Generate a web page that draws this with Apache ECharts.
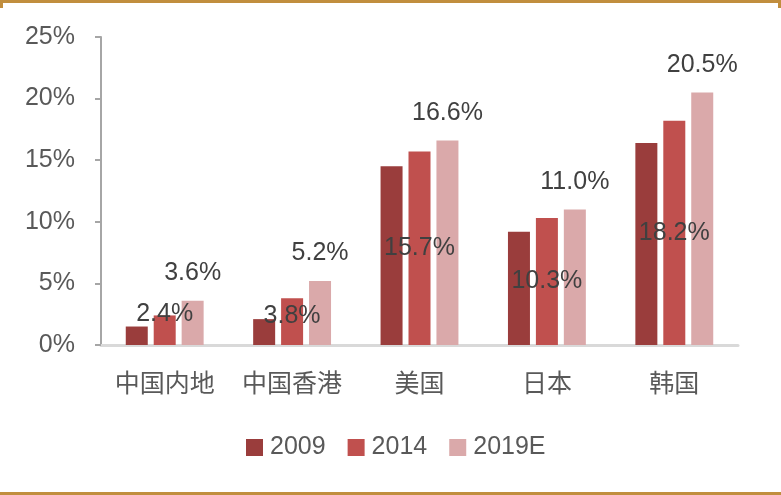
<!DOCTYPE html>
<html><head><meta charset="utf-8">
<script src="https://cdn.jsdelivr.net/npm/echarts@6/dist/echarts.min.js"></script>
<style>html,body{margin:0;padding:0;background:#fff}#c{width:781px;height:495px}</style>
</head><body><div id="c"></div>
<script>
const categories = ['中国内地','中国香港','美国','日本','韩国'];
const s2009 = [1.5, 2.1, 14.5, 9.2, 16.4];
const s2014 = [2.4, 3.8, 15.7, 10.3, 18.2];
const s2019 = [3.6, 5.2, 16.6, 11.0, 20.5];
const seriesNames = ['2009','2014','2019E'];
const yTicks = [0,5,10,15,20,25];

const chart = echarts.init(document.getElementById('c'));
const fmt = p => p.value.toFixed(1) + '%';
const font = '"Liberation Sans Narrow","Liberation Sans",sans-serif';
const off2014 = [[0,-16],[0,-5],[0,0],[0,0],[0,0]];
chart.setOption({
  animation:false,
  textStyle:{fontFamily:font},
  grid:{left:101,right:43,top:37,bottom:150},
  legend:{top:435,left:246,padding:0,itemWidth:17,itemHeight:17,itemGap:22,
    icon:'rect',textStyle:{fontSize:25,color:'#595959',fontFamily:font,padding:[0,0,0,2]},
    data:seriesNames},
  xAxis:{type:'category',data:categories,
    axisLine:{lineStyle:{color:'#D9D9D9',width:3}},axisTick:{show:false},
    axisLabel:{interval:0,hideOverlap:false,fontSize:25,color:'#595959',margin:25,fontFamily:'"Noto Sans CJK SC",sans-serif'}},
  yAxis:{type:'value',min:yTicks[0],max:yTicks[yTicks.length-1],interval:5,
    axisLine:{show:true,lineStyle:{color:'#A6A6A6',width:2}},
    axisTick:{show:true,length:6,lineStyle:{color:'#A6A6A6',width:2}},
    splitLine:{show:false},
    axisLabel:{fontSize:25,color:'#595959',margin:26,formatter:v=>v+'%'}},
  series:[
    {name:seriesNames[0],type:'bar',data:s2009,barWidth:22,barGap:'27%',barCategoryGap:'39%',
      itemStyle:{color:'#9A3D3C'}},
    {name:seriesNames[1],type:'bar',barWidth:22,
      data:s2014.map((v,i)=>({value:v,label:{offset:off2014[i]}})),
      itemStyle:{color:'#C0504E'},
      label:{show:true,position:'inside',formatter:fmt,fontSize:25,color:'#404040'}},
    {name:seriesNames[2],type:'bar',data:s2019,barWidth:22,
      itemStyle:{color:'#DAA9AA'},
      label:{show:true,position:'top',distance:15,formatter:fmt,fontSize:25,color:'#404040'}}
  ],
  graphic:[
    {type:'rect',shape:{x:0,y:0,width:781,height:3},style:{fill:'#C18E3E'},silent:true},
    {type:'rect',shape:{x:0,y:0,width:3,height:8},style:{fill:'#C18E3E'},silent:true},
    {type:'rect',shape:{x:778,y:0,width:3,height:8},style:{fill:'#C18E3E'},silent:true},
    {type:'rect',shape:{x:0,y:492,width:781,height:3},style:{fill:'#C18E3E'},silent:true}
  ]
});
</script></body></html>
